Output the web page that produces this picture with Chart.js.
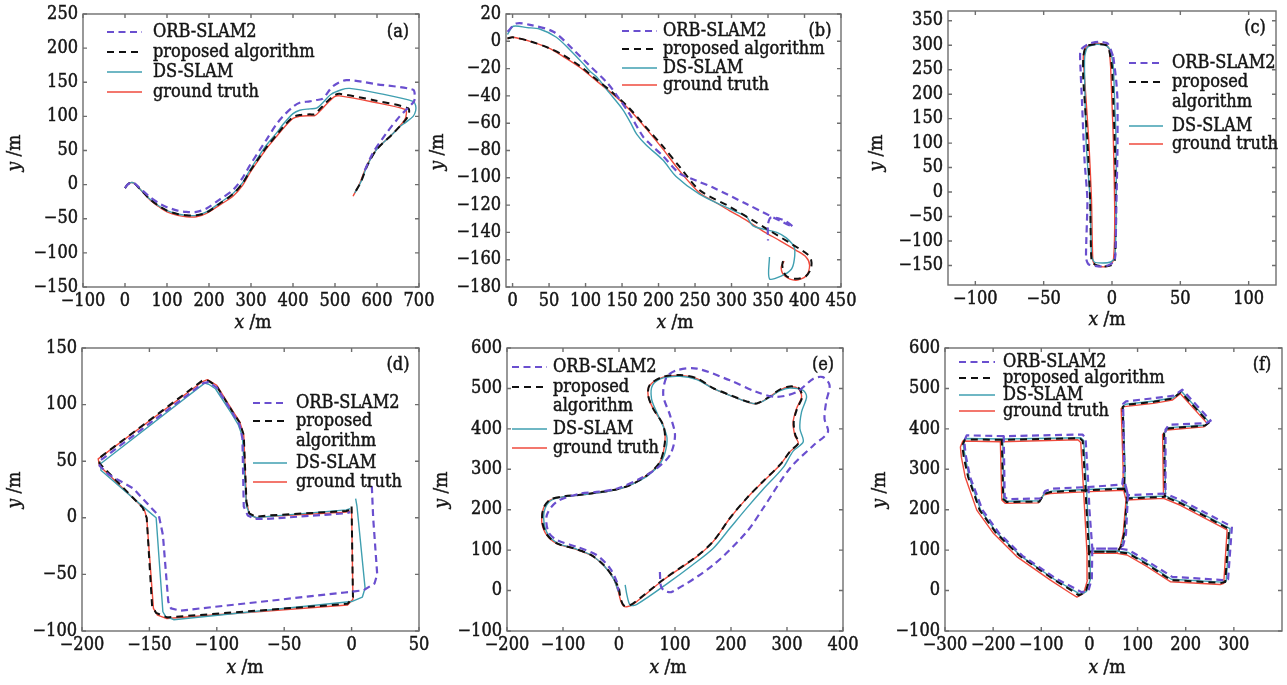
<!DOCTYPE html>
<html><head><meta charset="utf-8">
<script src="https://cdn.jsdelivr.net/npm/chart.js@4.4.1/dist/chart.umd.min.js"></script>
<style>
html,body{margin:0;padding:0;background:#fff;}
#wrap{position:relative;width:1287px;height:685px;overflow:hidden;background:#fff;}
#wrap canvas{position:absolute;left:0;top:0;}
</style></head><body><div id="wrap"></div>
<script>
const seriesNames = ['ORB-SLAM2','proposed algorithm','DS-SLAM','ground truth'];

// ---------- tick labels ----------
const aXTicks = [-100,0,100,200,300,400,500,600,700];
const aYTicks = [-150,-100,-50,0,50,100,150,200,250];
const bXTicks = [0,50,100,150,200,250,300,350,400,450];
const bYTicks = [-180,-160,-140,-120,-100,-80,-60,-40,-20,0,20];
const cXTicks = [-100,-50,0,50,100];
const cYTicks = [-150,-100,-50,0,50,100,150,200,250,300,350];
const dXTicks = [-200,-150,-100,-50,0,50];
const dYTicks = [-100,-50,0,50,100,150];
const eXTicks = [-200,-100,0,100,200,300,400];
const eYTicks = [-100,0,100,200,300,400,500,600];
const fXTicks = [-300,-200,-100,0,100,200,300];
const fYTicks = [-100,0,100,200,300,400,500,600];

// ---------- (a) ----------
const a_orb = [[0,-5],[6,0],[14,3],[22,2],[35,-5],[59,-18],[80,-27],[100,-33],[125,-38],[146,-40],[170,-40],[194,-35],[225,-22],[257,-8],[280,10],[297,28],[320,50],[337,66],[360,88],[376,100],[400,114],[416,120],[440,122],[456,124],[471,126],[495,144],[527,153],[600,147],[686,139],[690,130],[688,122],[670,110],[654,100],[622,75],[590,46],[568,17]];
const a_prop = [[0,-5],[6,0],[14,3],[22,2],[35,-6],[59,-21],[80,-31],[100,-38],[125,-43],[146,-45],[170,-45],[194,-41],[225,-28],[257,-14],[280,2],[297,19],[320,40],[337,55],[360,72],[376,84],[400,99],[416,102],[440,103],[452,103],[463,110],[480,121],[499,131],[511,133],[590,124],[674,112],[676,104],[668,95],[640,76],[600,52],[577,28],[561,3],[547,-12]];
const a_ds = [[0,-5],[6,0],[14,3],[22,2],[35,-6],[59,-21],[80,-31],[100,-38],[125,-43],[146,-45],[170,-45],[194,-40],[225,-27],[257,-13],[280,3],[297,21],[320,43],[337,58],[360,75],[376,88],[400,104],[416,109],[440,111],[456,112],[468,118],[490,132],[515,139],[535,141],[610,133],[686,122],[692,116],[692,108],[686,100],[670,92],[652,84],[640,76],[600,52],[577,28],[561,3],[547,-12]];
const a_gt = [[0,-5],[6,0],[14,3],[22,2],[35,-6],[59,-22],[80,-32],[100,-40],[125,-45],[146,-47],[170,-47],[194,-42],[225,-30],[257,-17],[280,-1],[297,17],[320,38],[337,53],[360,70],[376,82],[400,97],[416,100],[440,101],[452,101],[463,107],[480,118],[499,129],[511,130],[590,121],[668,110],[670,104],[666,95],[638,75],[598,51],[575,27],[559,2],[543,-17]];

// ---------- (b) ----------
const b_orb = [[-7,7],[5,13],[24,12],[56,7],[83,-6],[104,-17],[129,-30],[142,-39],[160,-53],[179,-70],[188,-75],[206,-84],[229,-97],[247,-101],[256,-103],[274,-107],[320,-119],[384,-136],[375,-132],[366,-130],[354,-129],[350,-134],[350,-146]];
const b_prop = [[-7,2],[0,3],[24,0],[50,-5],[69,-10],[92,-18],[115,-28],[138,-38],[160,-49],[183,-63],[206,-77],[229,-92],[256,-109],[297,-121],[347,-137],[393,-152],[404,-156],[409,-160],[409,-166],[402,-172],[388,-174],[375,-172],[370,-166],[370,-162],[374,-159]];
const b_ds = [[-7,5],[1,11],[20,10],[37,9],[60,3],[78,-6],[96,-16],[106,-22],[115,-26],[133,-38],[151,-50],[162,-60],[170,-68],[183,-76],[206,-87],[224,-99],[256,-112],[290,-121],[311,-126],[320,-128],[329,-135],[347,-138],[362,-140],[375,-144],[386,-151],[386,-160],[382,-167],[368,-172],[352,-174],[352,-158]];
const b_gt = [[-7,2],[0,3],[24,0],[50,-5],[69,-11],[92,-19],[115,-29],[138,-39],[160,-50],[183,-64],[206,-79],[229,-95],[256,-111],[275,-117],[297,-124],[320,-131],[343,-139],[366,-146],[388,-153],[402,-158],[407,-164],[402,-172],[388,-175],[373,-172],[368,-166],[372,-161]];

// ---------- (c) ----------
const c_orb = [[1,276],[3,230],[4,188],[4,86],[3,-50],[2,-140],[-3,-150],[-8,-152],[-17,-148],[-19,-135],[-18,-16],[-20,60],[-21,120],[-22,188],[-23,250],[-23,290],[-17,303],[-10,307],[-3,303],[1,276]];
const c_prop = [[-2,290],[0,256],[1,180],[2,106],[3,-50],[2,-140],[-1,-150],[-6,-152],[-12,-149],[-15,-140],[-16,-16],[-18,106],[-21,230],[-21,276],[-19,298],[-11,302],[-4,300],[-2,290]];
const c_ds = [[-1,290],[1,256],[2,180],[3,106],[3,-50],[2,-135],[-1,-143],[-7,-145],[-13,-143],[-15,-130],[-16,-16],[-18,60],[-19,106],[-20,230],[-20,276],[-18,296],[-11,302],[-4,299],[-1,290]];
const c_gt = [[-2,293],[-1,256],[0,180],[1,106],[2,-50],[1,-140],[-2,-150],[-6,-153],[-12,-150],[-14,-140],[-15,-16],[-17,106],[-20,230],[-21,276],[-19,296],[-11,304],[-4,300],[-2,293]];

// ---------- (d) ----------
const d_orb = [[15,28],[16,0],[19,-50],[17,-58],[9,-64],[-5,-66],[-127,-82],[-134,-80],[-136,-74],[-140,-15],[-143,2],[-148,8],[-162,26],[-180,38],[-187,46],[-186,51],[-110,119],[-106,120],[-100,115],[-88,92],[-83,82],[-81,70],[-80,10],[-77,2],[-72,-1],[-63,-1],[-4,4],[-1,5]];
const d_prop = [[0,10],[1,-70],[-3,-76],[-137,-88],[-145,-84],[-148,-78],[-152,0],[-155,9],[-187,48],[-187,53],[-111,121],[-106,121],[-100,116],[-88,93],[-83,84],[-80,73],[-78,14],[-76,4],[-71,1],[-63,2],[-4,6],[-1,7]];
const d_ds = [[3,17],[4,10],[10,-62],[8,-70],[0,-74],[-132,-90],[-138,-87],[-140,-83],[-145,0],[-150,5],[-186,42],[-186,48],[-109,119],[-106,118],[-101,114],[-89,92],[-84,82],[-81,72],[-78,10],[-75,2],[-70,0],[-63,1],[-4,7],[-1,8]];
const d_gt = [[0,8],[1,-72],[-3,-77],[-137,-89],[-144,-86],[-147,-80],[-152,0],[-154,8],[-187,46],[-188,52],[-111,120],[-107,122],[-100,117],[-88,94],[-83,85],[-80,73],[-78,14],[-76,4],[-71,0],[-63,1],[-4,5],[-1,6]];

// ---------- (e) ----------
const e_orb = [[73,46],[75,10],[82,-1],[95,-3],[168,63],[228,145],[257,203],[305,302],[347,359],[373,392],[367,425],[370,467],[376,508],[364,528],[347,524],[317,491],[281,479],[246,491],[198,520],[139,549],[103,545],[85,528],[79,483],[91,434],[100,384],[91,335],[67,302],[38,277],[-4,252],[-40,244],[-69,240],[-111,220],[-129,186],[-126,145],[-111,125],[-75,108],[-40,88],[-16,55],[-4,22],[-1,0]];
const e_prop = [[0,5],[3,-20],[8,-36],[14,-38],[25,-32],[80,28],[140,86],[169,123],[199,181],[229,230],[258,271],[288,312],[306,345],[321,366],[315,384],[312,417],[318,450],[327,479],[321,501],[305,505],[287,497],[269,480],[246,463],[228,468],[198,484],[168,501],[139,525],[109,533],[79,529],[55,509],[52,483],[61,450],[79,409],[82,368],[73,318],[50,285],[20,261],[-10,249],[-69,237],[-99,233],[-123,225],[-135,203],[-137,170],[-128,137],[-110,116],[-80,104],[-50,88],[-27,63],[-9,30],[0,5]];
const e_ds = [[11,14],[14,-10],[20,-36],[32,-34],[91,22],[130,62],[168,104],[198,154],[228,204],[257,250],[293,304],[311,345],[329,368],[323,401],[326,442],[335,479],[329,495],[305,501],[287,494],[269,478],[246,462],[228,467],[198,483],[168,500],[139,522],[109,530],[79,526],[60,508],[58,475],[67,442],[85,384],[84,351],[75,318],[52,285],[20,261],[-10,248],[-69,236],[-99,232],[-120,224],[-132,203],[-134,170],[-126,137],[-108,116],[-79,104],[-50,88],[-28,63],[-10,30],[-1,-3]];
const e_gt = [[-1,-3],[3,-25],[8,-38],[14,-40],[25,-34],[79,26],[139,84],[168,121],[198,179],[228,228],[257,269],[287,310],[305,343],[320,364],[314,384],[311,417],[317,450],[326,479],[320,500],[305,504],[287,496],[269,479],[246,462],[228,467],[198,483],[168,500],[139,524],[109,532],[79,528],[55,508],[52,483],[61,450],[79,409],[82,368],[73,318],[50,285],[20,261],[-10,248],[-69,236],[-99,232],[-123,224],[-135,203],[-138,170],[-129,137],[-111,116],[-81,104],[-51,88],[-28,63],[-10,30],[-1,-3]];

// ---------- (f) ----------
const f_orb = [[-178,382],[-255,384],[-260,370],[-257,335],[-248,281],[-222,199],[-187,141],[-139,86],[-70,30],[-30,5],[-16,-4],[-2,0],[5,30],[6,104],[60,104],[6,104],[0,200],[-2,256],[-8,376],[-14,386],[-178,382],[-176,232],[-170,226],[-102,228],[-92,246],[-78,252],[-6,256],[68,262],[72,300],[70,462],[76,468],[135,476],[175,482],[193,497],[252,420],[242,414],[165,410],[158,398],[158,240],[80,236],[75,262],[80,236],[76,140],[70,112],[62,104],[82,100],[124,70],[172,34],[276,26],[288,28],[296,158],[193,222],[158,240]];
const f_prop = [[-182,373],[-259,374],[-264,358],[-261,330],[-252,281],[-228,199],[-193,141],[-145,86],[-75,28],[-34,-2],[-22,-12],[-8,-4],[0,28],[-1,96],[58,96],[-1,96],[-6,200],[-8,248],[-14,370],[-20,377],[-182,373],[-179,226],[-172,219],[-104,220],[-94,239],[-80,244],[-9,248],[72,252],[73,300],[69,454],[74,459],[134,467],[173,475],[190,491],[248,415],[240,408],[163,401],[155,389],[157,232],[78,228],[73,252],[78,228],[72,140],[66,110],[58,95],[80,92],[122,63],[169,26],[274,19],[282,21],[290,152],[191,215],[157,232]];
const f_ds = [[-180,375],[-258,376],[-262,360],[-258,330],[-250,281],[-226,199],[-191,141],[-143,86],[-73,28],[-32,0],[-18,-10],[-6,-2],[2,28],[1,98],[59,98],[1,98],[-4,200],[-6,250],[-12,371],[-18,378],[-180,375],[-178,228],[-171,221],[-103,222],[-93,241],[-79,246],[-8,250],[73,254],[74,300],[70,456],[75,461],[135,469],[174,477],[191,493],[249,416],[241,409],[164,403],[156,390],[158,234],[79,230],[74,254],[79,230],[73,140],[67,112],[59,97],[81,94],[123,65],[170,28],[275,21],[284,23],[292,153],[192,217],[158,234]];
const f_gt = [[-185,368],[-263,370],[-268,355],[-266,330],[-258,281],[-234,199],[-199,141],[-151,84],[-81,26],[-40,-6],[-26,-16],[-12,-7],[-4,26],[-5,92],[57,92],[-5,92],[-10,200],[-12,244],[-18,366],[-24,373],[-185,368],[-182,224],[-175,216],[-106,217],[-96,236],[-82,240],[-12,244],[71,248],[70,300],[66,450],[72,455],[133,463],[172,471],[189,487],[245,413],[238,405],[161,397],[152,386],[154,228],[76,224],[71,248],[76,224],[70,140],[64,108],[57,92],[78,88],[120,59],[168,22],[272,15],[279,18],[286,150],[189,211],[154,228]];

// ---------- styles ----------
const styles = [
  {color:'#6a4fcf', width:2.2, dash:[7,4.5]},
  {color:'#111111', width:2.0, dash:[7,5]},
  {color:'#3f9fb0', width:1.4, dash:[]},
  {color:'#ef4a3c', width:1.4, dash:[]}
];
const FONT = '"DejaVu Serif Condensed", "DejaVu Serif", serif';
const TEXT = '#151515';
const TICK_SIZE = 18, LEGEND_SIZE = 18, TITLE_SIZE = 19, HEAVY = 0.45;
Chart.defaults.font.family = FONT;
Chart.defaults.font.size = TICK_SIZE;
Chart.defaults.color = TEXT;
const fmt = v => (v < 0 ? '\u2212' + Math.abs(v) : String(v));

const panels = [
  {tagText:'(a)', data:[a_orb,a_prop,a_ds,a_gt], xr:[-100,700], yr:[-150,250], xt:aXTicks, yt:aYTicks, tension:0.3,
   area:[83,14,419,287], yTitle:[15,153], xTitle:[253,323], tag:[398,32],
   legend:{x1:107,x2:142,tx:153,rows:[[0,'ORB-SLAM2',32],[1,'proposed algorithm',52],[2,'DS-SLAM',72],[3,'ground truth',92]]}},
  {tagText:'(b)', data:[b_orb,b_prop,b_ds,b_gt], xr:[-9,450], yr:[-180,20], xt:bXTicks, yt:bYTicks, tension:0.3,
   area:[506,14,841,287], yTitle:[438,152], xTitle:[675,323], tag:[820,31],
   legend:{x1:622,x2:657,tx:663,rows:[[0,'ORB-SLAM2',31],[1,'proposed algorithm',49],[2,'DS-SLAM',68],[3,'ground truth',85]]}},
  {tagText:'(c)', data:[c_orb,c_prop,c_ds,c_gt], xr:[-120,120], yr:[-190,370], xt:cXTicks, yt:cYTicks, tension:0.2,
   area:[948,11,1276,285], yTitle:[877,153], xTitle:[1107,320], tag:[1255,28],
   legend:{x1:1129,x2:1163,tx:1172,rows:[[0,'ORB-SLAM2',63],[1,'proposed',82],[null,'algorithm',102],[2,'DS-SLAM',126],[3,'ground truth',144]]}},
  {tagText:'(d)', data:[d_orb,d_prop,d_ds,d_gt], xr:[-200,50], yr:[-100,150], xt:dXTicks, yt:dYTicks, tension:0,
   area:[82,348,419,631], yTitle:[15,490], xTitle:[245,668], tag:[398,365],
   legend:{x1:253,x2:287,tx:296,rows:[[0,'ORB-SLAM2',403],[1,'proposed',421],[null,'algorithm',441],[2,'DS-SLAM',463],[3,'ground truth',482]]}},
  {tagText:'(e)', data:[e_orb,e_prop,e_ds,e_gt], xr:[-200,400], yr:[-100,600], xt:eXTicks, yt:eYTicks, tension:0.3,
   area:[507,348,843,631], yTitle:[442,490], xTitle:[668,668], tag:[823,365],
   legend:{x1:512,x2:547,tx:553,rows:[[0,'ORB-SLAM2',367],[1,'proposed',387],[null,'algorithm',406],[2,'DS-SLAM',429],[3,'ground truth',448]]}},
  {tagText:'(f)', data:[f_orb,f_prop,f_ds,f_gt], xr:[-300,400], yr:[-100,600], xt:fXTicks, yt:fYTicks, tension:0,
   area:[945,348,1282,631], yTitle:[880,490], xTitle:[1107,668], tag:[1262,365],
   legend:{x1:959,x2:995,tx:1003,rows:[[0,'ORB-SLAM2',362],[1,'proposed algorithm',378],[2,'DS-SLAM',395],[3,'ground truth',411]]}}
];

function heavyText(ctx, txt, x, y){
  ctx.fillText(txt, x, y);
  ctx.strokeText(txt, x, y);
}

function drawTitle(ctx, cx, cy, rot, v){
  ctx.save(); ctx.translate(cx, cy); ctx.rotate(rot);
  const f1 = 'italic ' + TITLE_SIZE + 'px ' + FONT, f2 = TITLE_SIZE + 'px ' + FONT;
  ctx.font = f1; const w1 = ctx.measureText(v).width;
  ctx.font = f2; const w2 = ctx.measureText(' /m').width;
  const x = -(w1 + w2) / 2;
  ctx.textAlign = 'left'; ctx.textBaseline = 'middle';
  ctx.fillStyle = TEXT; ctx.strokeStyle = TEXT; ctx.lineWidth = HEAVY; ctx.setLineDash([]);
  ctx.font = f1; heavyText(ctx, v, x, 0);
  ctx.font = f2; heavyText(ctx, ' /m', x + w1, 0);
  ctx.restore();
}

function makeDeco(p){
  return {
    id: 'deco',
    afterDraw(chart){
      const ctx = chart.ctx, ca = chart.chartArea, xs = chart.scales.x, ys = chart.scales.y;
      ctx.save();
      ctx.setLineDash([]);
      ctx.strokeStyle = '#6e6e6e'; ctx.lineWidth = 1.4;
      ctx.strokeRect(ca.left, ca.top, ca.right - ca.left, ca.bottom - ca.top);
      const L = 4;
      ctx.beginPath();
      xs.ticks.forEach(t => { const px = xs.getPixelForValue(t.value);
        ctx.moveTo(px, ca.bottom); ctx.lineTo(px, ca.bottom - L);
        ctx.moveTo(px, ca.top); ctx.lineTo(px, ca.top + L); });
      ys.ticks.forEach(t => { const py = ys.getPixelForValue(t.value);
        ctx.moveTo(ca.left, py); ctx.lineTo(ca.left + L, py);
        ctx.moveTo(ca.right, py); ctx.lineTo(ca.right - L, py); });
      ctx.stroke();
      const lg = p.legend;
      ctx.font = LEGEND_SIZE + 'px ' + FONT; ctx.fillStyle = TEXT; ctx.textBaseline = 'middle'; ctx.textAlign = 'left';
      lg.rows.forEach(([si, txt, y]) => {
        if (si !== null) {
          const st = styles[si];
          ctx.save(); ctx.strokeStyle = st.color; ctx.lineWidth = st.width; ctx.setLineDash(st.dash);
          ctx.beginPath(); ctx.moveTo(lg.x1, y); ctx.lineTo(lg.x2, y); ctx.stroke(); ctx.restore();
        }
        ctx.save(); ctx.strokeStyle = TEXT; ctx.lineWidth = HEAVY; ctx.setLineDash([]);
        heavyText(ctx, txt, lg.tx, y); ctx.restore();
      });
      ctx.textAlign = 'center';
      ctx.strokeStyle = TEXT; ctx.lineWidth = HEAVY; ctx.setLineDash([]);
      heavyText(ctx, p.tagText, p.tag[0], p.tag[1]);
      drawTitle(ctx, p.xTitle[0], p.xTitle[1], 0, 'x');
      drawTitle(ctx, p.yTitle[0], p.yTitle[1], -Math.PI / 2, 'y');
      ctx.restore();
    }
  };
}

function zeroPad(s){ s.paddingLeft = 0; s.paddingRight = 0; s.paddingTop = 0; s.paddingBottom = 0; }

const wrap = document.getElementById('wrap');
panels.forEach(p => {
  const cv = document.createElement('canvas');
  cv.width = 1287; cv.height = 685;
  cv.style.width = '1287px'; cv.style.height = '685px';
  wrap.appendChild(cv);
  const [l, t, r, b] = p.area;
  const tickOpts = (pad) => ({autoSkip: false, maxRotation: 0, minRotation: 0, padding: pad, color: TEXT,
    font: {family: FONT, size: TICK_SIZE}, textStrokeWidth: HEAVY, textStrokeColor: TEXT, callback: v => fmt(v)});
  new Chart(cv, {
    type: 'scatter',
    data: {
      datasets: p.data.map((arr, i) => ({
        label: seriesNames[i],
        data: arr.map(([x, y]) => ({x, y})),
        showLine: true, pointRadius: 0, pointHoverRadius: 0,
        borderColor: styles[i].color, borderWidth: styles[i].width, borderDash: styles[i].dash,
        backgroundColor: styles[i].color, fill: false, tension: p.tension,
        borderCapStyle: 'butt', borderJoinStyle: 'round'
      }))
    },
    options: {
      responsive: false, animation: false, devicePixelRatio: 1, events: [],
      layout: {padding: {left: l - 60, top: t, right: 1287 - r, bottom: 685 - b - 40}},
      plugins: {legend: {display: false}, tooltip: {enabled: false}, title: {display: false}},
      scales: {
        x: {type: 'linear', position: 'bottom', min: p.xr[0], max: p.xr[1], bounds: 'data',
            grid: {display: false, drawTicks: false}, border: {display: false},
            ticks: tickOpts(4),
            afterBuildTicks: s => { s.ticks = p.xt.map(v => ({value: v})); },
            afterFit: s => { s.height = 40; zeroPad(s); }},
        y: {type: 'linear', position: 'left', min: p.yr[0], max: p.yr[1], bounds: 'data',
            grid: {display: false, drawTicks: false}, border: {display: false},
            ticks: tickOpts(5),
            afterBuildTicks: s => { s.ticks = p.yt.map(v => ({value: v})); },
            afterFit: s => { s.width = 60; zeroPad(s); }}
      }
    },
    plugins: [makeDeco(p)]
  });
});
</script></body></html>
